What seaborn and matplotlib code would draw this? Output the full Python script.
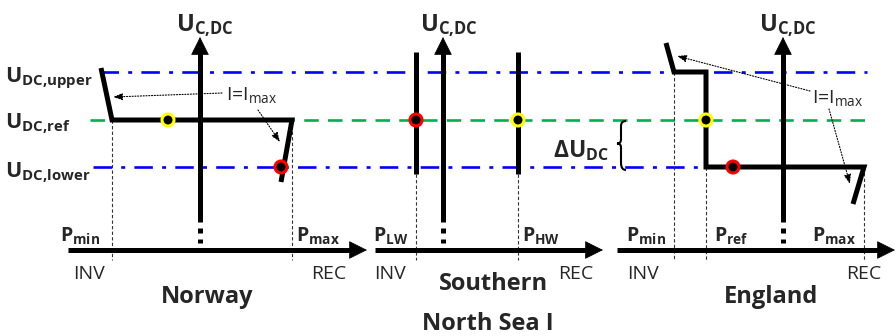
import matplotlib
matplotlib.use("Agg")
import matplotlib.pyplot as plt
from matplotlib.path import Path
from matplotlib.patches import PathPatch
import seaborn as sns
import pandas as pd

sns.set_style("white")
plt.rcParams['font.family'] = ['Open Sans', 'DejaVu Sans']
plt.rcParams['mathtext.fontset'] = 'custom'
plt.rcParams['mathtext.rm'] = 'Open Sans'
plt.rcParams['mathtext.bf'] = 'Open Sans:bold'
plt.rcParams['mathtext.it'] = 'Open Sans:italic'

# schematic levels (canvas rows) of the DC voltage
U_UPPER, U_REF, U_LOWER = 72, 120, 167
P_AXIS = 250

# droop / control characteristics of the three terminals (P, U)
norway_p = [101, 112, 292, 281]
norway_u = [68, U_REF, U_REF, 182]
southern_lw_p = [416, 416]
southern_hw_p = [518, 518]
southern_u = [52, 174]
england_p = [666, 674, 706, 706, 864, 853]
england_u = [43, U_UPPER, U_UPPER, U_LOWER, U_LOWER, 204]

# operating points
op_p = [168, 281, 416, 518, 706, 733]
op_u = [U_REF, U_LOWER, U_REF, U_REF, U_REF, U_LOWER]
op_color = ['#FFFF00', '#FF0000', '#FF0000', '#FFFF00', '#FFFF00', '#FF0000']

# axes of each panel: (x start, x tip, vertical axis x)
panels = [(68, 367, 200), (375, 603, 443), (617, 895, 783)]

BLUE = '#0000FF'
GREEN = '#00B050'

fig = plt.figure(figsize=(8.96, 3.36), dpi=100)
ax = fig.add_axes([0, 0, 1, 1])

# reference voltage lines
ax.plot([100, 867], [U_UPPER, U_UPPER], color=BLUE, lw=1.9,
        dashes=(7, 3.5, 1.5, 3.5), zorder=1)
ax.plot([90, 867], [U_REF, U_REF], color=GREEN, lw=1.9, dashes=(5.5, 3.5), zorder=1)
ax.plot([93, 867], [U_LOWER, U_LOWER], color=BLUE, lw=1.9,
        dashes=(7, 3.5, 1.5, 3.5), zorder=1)

# thin projection lines down to the P axis
proj = [(112, U_REF), (292, U_REF), (416, 174), (518, 174),
        (674, U_UPPER), (706, U_LOWER), (864, U_LOWER)]
for px, py in proj:
    ax.plot([px, px], [py, 260], color='#333333', lw=0.8, dashes=(3, 2), zorder=1)

# panel axes
for x0, x1, xv in panels:
    ax.plot([x0, x1 - 12], [P_AXIS, P_AXIS], color='k', lw=3.6, solid_capstyle='butt', zorder=3)
    ax.annotate('', xy=(x1, P_AXIS), xytext=(x1 - 14, P_AXIS),
                arrowprops=dict(arrowstyle='-|>,head_width=0.3,head_length=0.6',
                                mutation_scale=20, color='k', lw=0.5,
                                shrinkA=0, shrinkB=0), zorder=3)
    ax.plot([xv, xv], [222, 50], color='k', lw=3.6, solid_capstyle='butt', zorder=3)
    ax.annotate('', xy=(xv, 37), xytext=(xv, 52),
                arrowprops=dict(arrowstyle='-|>,head_width=0.3,head_length=0.6',
                                mutation_scale=20, color='k', lw=0.5,
                                shrinkA=0, shrinkB=0), zorder=3)
    ax.plot([xv, xv], [228, 243], color='k', lw=3.6, dashes=(1, 1.2), zorder=3)

# characteristics
curves = pd.concat([
    pd.DataFrame({'P': norway_p, 'U': norway_u, 'c': 'norway'}),
    pd.DataFrame({'P': southern_lw_p, 'U': southern_u, 'c': 'lw'}),
    pd.DataFrame({'P': southern_hw_p, 'U': southern_u, 'c': 'hw'}),
    pd.DataFrame({'P': england_p, 'U': england_u, 'c': 'england'}),
])
sns.lineplot(data=curves, x='P', y='U', units='c', estimator=None, sort=False,
             color='k', lw=3.6, ax=ax, zorder=4, legend=False)
for line in ax.lines[-4:]:
    line.set_solid_joinstyle('miter')
    line.set_solid_capstyle('butt')

ops = pd.DataFrame({'P': op_p, 'U': op_u})
sns.scatterplot(data=ops, x='P', y='U', s=75, linewidth=2.2, legend=False, ax=ax, zorder=5)
coll = ax.collections[-1]
coll.set_facecolor('k')
coll.set_edgecolor(op_color)

ax.set_xlim(0, 896)
ax.set_ylim(336, 0)
ax.axis('off')

# brace for delta U between ref and lower level
bx, mid = 621, (U_REF + U_LOWER) / 2
brace = Path([(bx + 5, U_REF + 1), (bx, U_REF + 1), (bx, U_REF + 6),
              (bx, mid - 4), (bx, mid), (bx - 4, mid),
              (bx, mid), (bx, mid + 4), (bx, U_LOWER - 4),
              (bx, U_LOWER + 3), (bx + 5, U_LOWER + 3)],
             [Path.MOVETO, Path.CURVE3, Path.CURVE3,
              Path.LINETO, Path.CURVE3, Path.CURVE3,
              Path.CURVE3, Path.CURVE3, Path.LINETO,
              Path.CURVE3, Path.CURVE3])
ax.add_patch(PathPatch(brace, fill=False, lw=1.5, color='k', zorder=4))

# text labels
big = dict(fontsize=15.5)
ax.text(5, 82, r'$\mathbf{U_{DC{,}upper}}$', **big)
ax.text(5, 128, r'$\mathbf{U_{DC{,}ref}}$', **big)
ax.text(5, 177, r'$\mathbf{U_{DC{,}lower}}$', **big)

for xl in (176, 420, 759):
    ax.text(xl, 31, r'$\mathbf{U_{C{,}DC}}$', fontsize=17)

pl = dict(fontsize=14)
ax.text(60, 242, r'$\mathbf{P_{min}}$', **pl)
ax.text(296, 242, r'$\mathbf{P_{max}}$', **pl)
ax.text(373, 242, r'$\mathbf{P_{LW}}$', **pl)
ax.text(522, 242, r'$\mathbf{P_{HW}}$', **pl)
ax.text(626, 242, r'$\mathbf{P_{min}}$', **pl)
ax.text(714, 242, r'$\mathbf{P_{ref}}$', **pl)
ax.text(812, 242, r'$\mathbf{P_{max}}$', **pl)

sm = dict(fontsize=14)
for xl, s in [(73, 'INV'), (311, 'REC'), (374, 'INV'), (558, 'REC'),
              (627, 'INV'), (846, 'REC')]:
    ax.text(xl, 279, s, **sm)

tl = dict(fontsize=17, fontweight='bold', ha='center')
ax.text(207, 303, 'Norway', **tl)
ax.text(493, 290, 'Southern', **tl)
ax.text(488, 330, 'North Sea I', **tl)
ax.text(771, 303, 'England', **tl)

ax.text(553, 157, r'$\mathbf{\Delta U_{DC}}$', fontsize=16.5)

ax.text(226, 100, r'I=I$_{\mathrm{max}}$', fontsize=14)
ax.text(812, 103, r'I=I$_{\mathrm{max}}$', fontsize=14)

arr = dict(arrowstyle='-|>,head_width=0.15,head_length=0.4', mutation_scale=14,
           color='k', lw=0.8, linestyle=(0, (1, 1.5)), shrinkA=0, shrinkB=0)
for start, end in [((222, 93), (113, 97)), ((258, 110), (280, 142)),
                   ((810, 91), (677, 56)), ((829, 109), (850, 184))]:
    ax.annotate('', xy=end, xytext=start, arrowprops=arr, zorder=6)

fig.savefig('out.png', dpi=100)
